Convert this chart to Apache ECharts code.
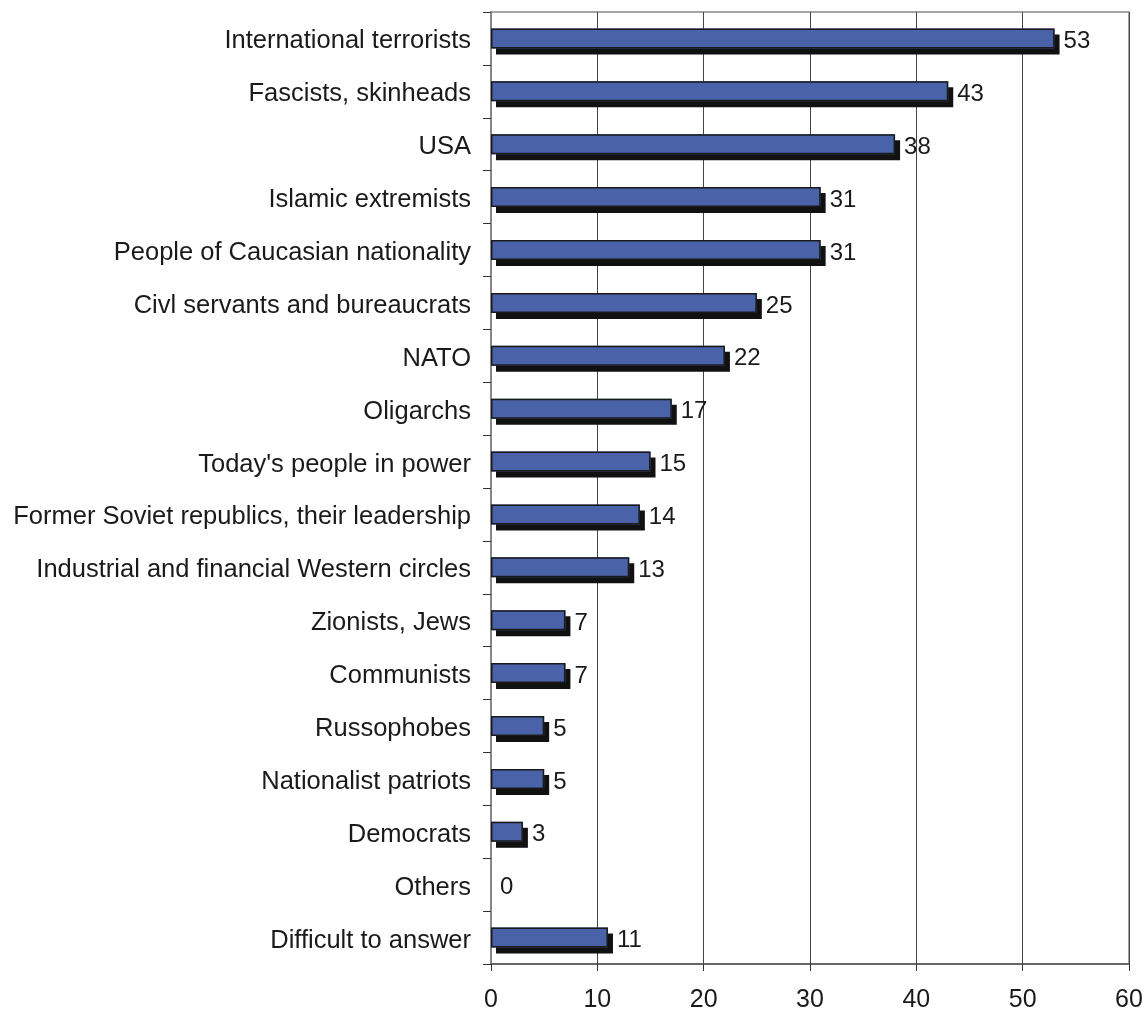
<!DOCTYPE html>
<html>
<head>
<meta charset="utf-8">
<script src="https://cdn.jsdelivr.net/npm/echarts@6/dist/echarts.min.js"></script>
<style>html,body{margin:0;padding:0;background:#fff;}#c{width:1146px;height:1010px;}</style>
</head>
<body>
<div id="c"></div>
<script>
const categories = [
  "International terrorists",
  "Fascists, skinheads",
  "USA",
  "Islamic extremists",
  "People of Caucasian nationality",
  "Civl servants and bureaucrats",
  "NATO",
  "Oligarchs",
  "Today's people in power",
  "Former Soviet republics, their leadership",
  "Industrial and financial Western circles",
  "Zionists, Jews",
  "Communists",
  "Russophobes",
  "Nationalist patriots",
  "Democrats",
  "Others",
  "Difficult to answer"
];
const values = [53, 43, 38, 31, 31, 25, 22, 17, 15, 14, 13, 7, 7, 5, 5, 3, 0, 11];
const xTicks = [0, 10, 20, 30, 40, 50, 60];

const chart = echarts.init(document.getElementById('c'));
const fontFamily = 'Liberation Sans';
chart.setOption({
  animation: false,
  grid: { left: 491, right: 17, top: 12, bottom: 46, show: true, borderColor: '#888', borderWidth: 1.5, containLabel: false, outerBoundsMode: 'none' },
  xAxis: {
    type: 'value', min: xTicks[0], max: xTicks[xTicks.length - 1], interval: 10,
    axisLine: { show: true, lineStyle: { color: '#555', width: 1.5 } },
    axisTick: { show: true, length: 7, lineStyle: { color: '#333' } },
    splitLine: { show: true, lineStyle: { color: '#444', width: 1 } },
    axisLabel: { color: '#1a1a1a', fontSize: 25, fontFamily: fontFamily, margin: 24 }
  },
  yAxis: {
    type: 'category', data: categories, inverse: true,
    axisLine: { show: true, lineStyle: { color: '#888', width: 2 } },
    axisTick: { show: true, length: 8, lineStyle: { color: '#333' } },
    axisLabel: { color: '#1a1a1a', fontSize: 25.5, fontFamily: fontFamily, margin: 20, verticalAlign: 'top', lineHeight: 6 }
  },
  series: [{
    type: 'bar',
    barWidth: 20,
    z: 2,
    data: values,
    itemStyle: {
      color: '#4a62a8', borderWidth: 0,
      shadowColor: '#111', shadowOffsetX: 5, shadowOffsetY: 6, shadowBlur: 0
    },
    label: { show: false }
  }, {
    type: 'bar',
    barWidth: 20,
    barGap: '-100%',
    z: 3,
    data: values.map(v => v === 0 ? { value: v, itemStyle: { borderWidth: 0 } } : v),
    itemStyle: { color: 'transparent', borderColor: '#1a1a1a', borderWidth: 1.5 },
    label: {
      show: true, position: 'right', distance: 9, verticalAlign: 'top', lineHeight: 6,
      color: '#1a1a1a', fontSize: 24, fontFamily: fontFamily
    }
  }]
});
</script>
</body>
</html>
